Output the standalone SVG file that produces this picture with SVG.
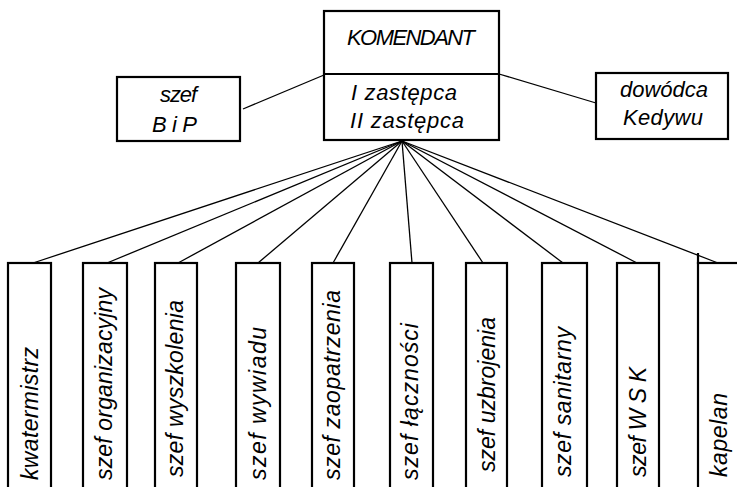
<svg xmlns="http://www.w3.org/2000/svg" width="737" height="487" viewBox="0 0 737 487">
<style>
.box{fill:#fff;stroke:#000;stroke-width:2.2}
.ln{stroke:#000;stroke-width:1.3;fill:none}
text{font-family:"Liberation Sans",Arial,sans-serif;font-style:italic;fill:#000}
.t{font-size:22px}
.v{font-size:23px}
</style>
<rect width="737" height="487" fill="#fff"/>
<g id="connectors">
<line class="ln" x1="243" y1="109" x2="324" y2="75"/>
<line class="ln" x1="499" y1="74" x2="596" y2="103"/>
<line class="ln" x1="402" y1="141" x2="33" y2="263"/>
<line class="ln" x1="402" y1="141" x2="107" y2="263"/>
<line class="ln" x1="402" y1="141" x2="178" y2="263"/>
<line class="ln" x1="402" y1="141" x2="258" y2="263"/>
<line class="ln" x1="402" y1="141" x2="333" y2="263"/>
<line class="ln" x1="402" y1="141" x2="412" y2="263"/>
<line class="ln" x1="402" y1="141" x2="483" y2="263"/>
<line class="ln" x1="402" y1="141" x2="563" y2="263"/>
<line class="ln" x1="402" y1="141" x2="637" y2="263"/>
<line class="ln" x1="402" y1="141" x2="718" y2="263"/>
</g>
<g id="komendant">
<rect class="box" x="324" y="11" width="175" height="129"/>
<line class="box" x1="324" y1="74" x2="499" y2="74"/>
<text class="t" x="347" y="45" font-size="21" textLength="128">KOMENDANT</text>
<text class="t" x="351" y="100" textLength="106">I  zastępca</text>
<text class="t" x="350" y="128" textLength="114">II zastępca</text>
</g>
<g id="szef-bip">
<rect class="box" x="117" y="77" width="123" height="64"/>
<text class="t" x="160" y="102" textLength="37">szef</text>
<text class="t" x="152" y="132" textLength="45">B i P</text>
</g>
<g id="dowodca-kedywu">
<rect class="box" x="596" y="73" width="132" height="66"/>
<text class="t" x="620" y="97" textLength="88">dowódca</text>
<text class="t" x="623" y="125" textLength="80">Kedywu</text>
</g>
<g id="kwatermistrz">
<rect class="box" x="8" y="263" width="43" height="240"/>
<text class="v" transform="translate(38,480) rotate(-90)" textLength="133">kwatermistrz</text>
</g>
<g id="szef-organizacyjny">
<rect class="box" x="83" y="263" width="44" height="240"/>
<text class="v" transform="translate(112,480) rotate(-90)" textLength="192">szef organizacyjny</text>
</g>
<g id="szef-wyszkolenia">
<rect class="box" x="155" y="263" width="42" height="240"/>
<text class="v" transform="translate(183,477) rotate(-90)" textLength="177">szef wyszkolenia</text>
</g>
<g id="szef-wywiadu">
<rect class="box" x="236" y="263" width="44" height="240"/>
<text class="v" transform="translate(266,480) rotate(-90)" textLength="153">szef wywiadu</text>
</g>
<g id="szef-zaopatrzenia">
<rect class="box" x="312" y="263" width="42" height="240"/>
<text class="v" transform="translate(340,480) rotate(-90)" textLength="190">szef zaopatrzenia</text>
</g>
<g id="szef-lacznosci">
<rect class="box" x="390" y="263" width="43" height="240"/>
<text class="v" transform="translate(418,480) rotate(-90)" textLength="157">szef łączności</text>
</g>
<g id="szef-uzbrojenia">
<rect class="box" x="466" y="263" width="41" height="240"/>
<text class="v" transform="translate(495,472) rotate(-90)" textLength="155">szef uzbrojenia</text>
</g>
<g id="szef-sanitarny">
<rect class="box" x="542" y="263" width="45" height="240"/>
<text class="v" transform="translate(571,477) rotate(-90)" textLength="150">szef sanitarny</text>
</g>
<g id="szef-wsk">
<rect class="box" x="617" y="263" width="42" height="240"/>
<text class="v" transform="translate(646,477) rotate(-90)" font-size="22" textLength="110">szef W S K</text>
</g>
<g id="kapelan">
<rect class="box" x="698" y="263" width="60" height="240"/>
<line class="box" x1="698" y1="253" x2="698" y2="264"/>
<text class="v" transform="translate(727,477) rotate(-90)" textLength="84">kapelan</text>
</g>
</svg>
